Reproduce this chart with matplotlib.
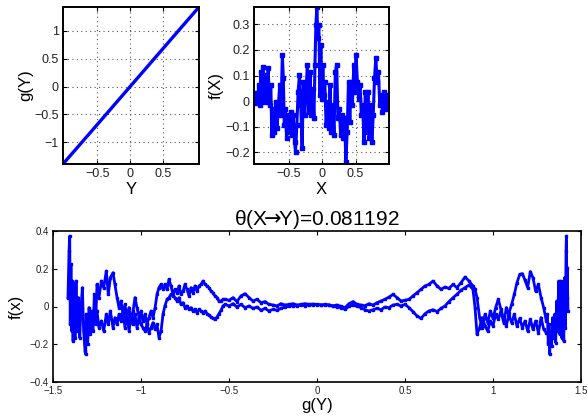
import matplotlib
matplotlib.use("Agg")
import matplotlib.pyplot as plt

plt.rcParams['font.family'] = ['Liberation Sans', 'DejaVu Sans']
plt.rcParams['axes.unicode_minus'] = True
plt.rcParams['mathtext.fontset'] = 'dejavusans'

# ---------------- data: top-left, g(Y) vs Y ----------------
Y_vals = [-1.02, -0.5, 0.0, 0.5, 1.04]
gY_vals = [-1.39, -0.68, 0.005, 0.69, 1.43]

# ---------------- data: top-right, f(X) vs X ----------------
X_vals = [-1.020, -1.005, -0.985, -0.966, -0.951, -0.936, -0.916, -0.901, -0.887, -0.867,
          -0.847, -0.828, -0.808, -0.788, -0.768, -0.754, -0.734, -0.714, -0.695, -0.675,
          -0.655, -0.635, -0.616, -0.596, -0.581, -0.567, -0.552, -0.532, -0.512, -0.493,
          -0.473, -0.453, -0.433, -0.414, -0.399, -0.379, -0.360, -0.340, -0.320, -0.300,
          -0.281, -0.261, -0.241, -0.222, -0.202, -0.182, -0.163, -0.143, -0.123, -0.108,
          -0.094, -0.079, -0.064, -0.049, -0.034, -0.020, -0.005, 0.010, 0.025, 0.039,
          0.059, 0.079, 0.099, 0.118, 0.138, 0.158, 0.177, 0.197, 0.217, 0.236,
          0.256, 0.276, 0.296, 0.315, 0.335, 0.355, 0.374, 0.394, 0.414, 0.433,
          0.453, 0.473, 0.493, 0.507, 0.527, 0.547, 0.567, 0.586, 0.606, 0.626,
          0.645, 0.665, 0.685, 0.704, 0.724, 0.744, 0.764, 0.783, 0.803, 0.823,
          0.842, 0.862, 0.882, 0.901, 0.921, 0.941, 0.961, 0.980, 1.000]
fX_vals = [0.010, -0.009, 0.030, -0.003, 0.063, -0.016, 0.115, -0.003, 0.134, 0.010,
           0.102, -0.003, 0.128, -0.016, 0.063, -0.133, -0.029, -0.120, -0.003, -0.107,
           -0.016, 0.063, -0.055, 0.180, 0.089, -0.094, -0.029, -0.146, -0.055, -0.120,
           -0.042, -0.133, -0.055, -0.159, -0.198, -0.094, 0.036, 0.102, -0.016, -0.185,
           0.076, -0.055, 0.036, 0.141, -0.042, 0.115, -0.055, 0.049, -0.068, 0.141,
           0.297, 0.368, 0.245, 0.297, 0.023, 0.219, 0.010, 0.141, 0.023, 0.076,
           -0.094, -0.003, -0.107, 0.063, -0.120, -0.016, -0.133, 0.115, 0.141, -0.068,
           -0.029, -0.133, -0.055, -0.146, -0.068, -0.237, -0.120, 0.076, -0.081, 0.076,
           -0.016, 0.141, 0.036, 0.180, 0.076, 0.010, 0.063, -0.055, -0.016, -0.159,
           0.036, -0.120, 0.036, -0.146, -0.016, -0.159, -0.055, 0.089, 0.167, 0.076,
           0.115, -0.016, 0.023, -0.042, 0.036, -0.029, 0.023, -0.016, 0.004]

# ---------------- data: bottom, f(x) vs g(Y) ----------------
g_left_col = [-1.415, -1.409, -1.405, -1.402, -1.398, -1.394, -1.390, -1.386, -1.381, -1.375,
              -1.369, -1.364, -1.356, -1.348, -1.341, -1.333, -1.326, -1.318, -1.314, -1.311,
              -1.303, -1.295, -1.288, -1.280, -1.273, -1.265, -1.258]
f_left_col = [0.047, 0.294, 0.373, -0.095, 0.223, -0.130, 0.135, -0.183, 0.117, -0.165,
              0.135, -0.130, 0.047, -0.165, -0.006, 0.100, -0.130, -0.236, -0.253, -0.041,
              -0.200, -0.006, -0.147, -0.024, -0.130, 0.064, -0.095]

g_left = [-1.250, -1.239, -1.225, -1.212, -1.197, -1.186, -1.174, -1.159, -1.148, -1.136,
          -1.125, -1.114, -1.102, -1.091, -1.080, -1.068, -1.057, -1.045, -1.034, -1.023,
          -1.011, -1.000, -0.989, -0.977, -0.966, -0.955, -0.943, -0.932, -0.920, -0.909,
          -0.898, -0.886, -0.875, -0.864, -0.852, -0.841, -0.830, -0.818, -0.807, -0.795,
          -0.784, -0.773, -0.761, -0.750, -0.739, -0.727, -0.716, -0.705, -0.693, -0.682,
          -0.670, -0.659, -0.648, -0.636, -0.625, -0.614, -0.602, -0.591, -0.580, -0.568,
          -0.557, -0.545, -0.534]
fa_left = [0.117, 0.047, 0.135, 0.100, 0.188, 0.064, 0.153, 0.179, 0.117, 0.047,
           -0.006, 0.029, -0.041, 0.011, -0.059, -0.006, -0.077, -0.024, 0.047, -0.006,
           -0.059, -0.024, -0.077, -0.041, -0.095, -0.059, -0.024, -0.059, -0.006, 0.064,
           0.100, 0.117, 0.091, 0.117, 0.091, 0.144, 0.109, 0.064, 0.091, 0.073,
           0.109, 0.064, 0.082, 0.117, 0.091, 0.056, 0.100, 0.073, 0.109, 0.082,
           0.109, 0.117, 0.135, 0.117, 0.109, 0.100, 0.082, 0.073, 0.056, 0.047,
           0.029, 0.029, 0.038]
fb_left = [-0.024, -0.112, -0.077, -0.130, -0.041, -0.095, -0.024, -0.112, -0.059, -0.095,
           -0.041, -0.077, -0.024, -0.112, -0.041, -0.130, -0.059, -0.095, -0.041, -0.112,
           -0.059, -0.095, -0.112, -0.130, -0.095, -0.139, -0.112, -0.086, -0.121, -0.095,
           -0.165, -0.130, -0.041, 0.003, 0.038, 0.047, 0.064, 0.056, 0.047, 0.029,
           0.047, 0.011, 0.020, -0.006, 0.003, -0.015, -0.006, -0.024, -0.015, -0.033,
           -0.015, -0.024, -0.033, -0.024, -0.038, -0.045, -0.056, -0.063, -0.068, -0.056,
           -0.038, -0.020, 0.003]

g_mid = [-0.523, -0.500, -0.477, -0.455, -0.432, -0.409, -0.386, -0.364, -0.341, -0.318,
         -0.295, -0.273, -0.250, -0.227, -0.205, -0.182, -0.159, -0.136, -0.114, -0.091,
         -0.068, -0.045, -0.023, 0.000]
fa_mid = [0.038, 0.033, 0.047, 0.026, 0.056, 0.068, 0.047, 0.029, 0.038, 0.020,
          0.026, 0.011, 0.008, 0.003, 0.015, 0.008, 0.011, 0.015, 0.008, 0.011,
          0.015, 0.011, 0.013, 0.011]
fb_mid = [0.011, 0.003, 0.015, -0.003, 0.011, -0.006, 0.003, -0.010, -0.003, -0.020,
          -0.010, -0.024, -0.015, -0.020, -0.010, -0.003, 0.001, 0.004, 0.003, 0.008,
          0.004, 0.008, 0.008, 0.010]

g_right = [0.023, 0.045, 0.068, 0.091, 0.114, 0.136, 0.159, 0.182, 0.205, 0.227,
           0.250, 0.273, 0.295, 0.318, 0.341, 0.364, 0.386, 0.409, 0.432, 0.455,
           0.477, 0.500, 0.523, 0.545, 0.568, 0.591, 0.614, 0.636, 0.659, 0.682,
           0.705, 0.727, 0.750, 0.773, 0.795, 0.818, 0.841, 0.864, 0.886, 0.898,
           0.909]
fa_right = [0.008, 0.011, 0.008, 0.004, 0.008, 0.001, -0.006, 0.015, 0.026, 0.011,
            0.008, 0.004, 0.015, 0.008, 0.020, 0.029, 0.038, 0.050, 0.064, 0.047,
            0.029, 0.033, 0.038, 0.056, 0.073, 0.091, 0.109, 0.117, 0.135, 0.109,
            0.091, 0.103, 0.096, 0.117, 0.100, 0.126, 0.156, 0.135, 0.109, 0.091,
            0.047]
fb_right = [0.008, 0.008, 0.008, 0.001, -0.003, -0.006, -0.015, 0.001, 0.008, 0.001,
            -0.006, -0.017, -0.024, -0.017, -0.010, -0.017, -0.003, -0.006, 0.008, 0.011,
            0.003, 0.011, -0.006, -0.027, -0.050, -0.063, -0.038, -0.024, -0.017, -0.027,
            -0.010, 0.003, 0.026, 0.047, 0.064, 0.086, 0.100, 0.114, 0.091, -0.006,
            -0.147]

g_noisy = [0.924, 0.939, 0.955, 0.970, 0.985, 1.000, 1.015, 1.030, 1.045, 1.061,
           1.076, 1.091, 1.106, 1.121, 1.136, 1.152, 1.167, 1.182, 1.197, 1.212,
           1.227, 1.242, 1.258, 1.273, 1.288, 1.303]
fa_noisy = [-0.059, -0.112, -0.041, -0.086, -0.024, -0.063, -0.006, 0.038, -0.015, -0.068,
            -0.103, -0.033, 0.011, 0.064, 0.126, 0.170, 0.174, 0.139, 0.100, 0.185,
            0.153, 0.082, 0.117, 0.047, -0.006, -0.077]
fb_noisy = [-0.112, -0.059, -0.103, -0.130, -0.077, -0.103, -0.041, -0.068, -0.024, -0.086,
            -0.006, -0.050, -0.086, -0.041, -0.103, -0.063, -0.112, -0.077, -0.130, -0.068,
            -0.121, -0.077, -0.139, -0.059, -0.121, -0.139]

g_right_col = [1.309, 1.314, 1.318, 1.322, 1.328, 1.333, 1.339, 1.345, 1.350, 1.356,
               1.362, 1.367, 1.373, 1.379, 1.384, 1.390, 1.396, 1.402, 1.407, 1.411,
               1.415, 1.417, 1.420, 1.422, 1.426]
f_right_col = [-0.041, -0.200, -0.095, -0.253, -0.130, -0.209, -0.059, -0.165, -0.041, -0.192,
               0.029, -0.130, 0.135, -0.147, 0.135, -0.165, 0.117, -0.183, 0.153, -0.112,
               0.294, 0.373, 0.047, 0.206, -0.024]

title_text = r"θ(X$\!\!\rightarrow\!\!$Y)=0.081192"

tl_xticks = [-0.5, 0, 0.5]
tl_xticklabels = ["−0.5", "0", "0.5"]
tl_yticks = [-1, -0.5, 0, 0.5, 1]
tl_yticklabels = ["−1", "−0.5", "0", "0.5", "1"]
tr_xticks = [-0.5, 0, 0.5]
tr_xticklabels = ["−0.5", "0", "0.5"]
tr_yticks = [-0.2, -0.1, 0, 0.1, 0.2, 0.3]
tr_yticklabels = ["−0.2", "−0.1", "0", "0.1", "0.2", "0.3"]
b_xticks = [-1.5, -1, -0.5, 0, 0.5, 1, 1.5]
b_xticklabels = ["−1.5", "−1", "−0.5", "0", "0.5", "1", "1.5"]
b_yticks = [-0.4, -0.2, 0, 0.2, 0.4]
b_yticklabels = ["−0.4", "−0.2", "0", "0.2", "0.4"]

# ---------------- figure ----------------
W, H = 588, 416
fig = plt.figure(figsize=(W / 100, H / 100), dpi=100)

def px_axes(l, t, r, b):
    return fig.add_axes([l / W, 1 - b / H, (r - l) / W, (b - t) / H])

BLUE = '#0000ff'
TXT = '#222222'

def style(ax, lw, fs):
    for s in ax.spines.values():
        s.set_linewidth(lw)
        s.set_color('black')
    ax.tick_params(direction='in', top=True, right=True, labelsize=fs,
                   colors='black', labelcolor=TXT, length=3, width=0.8, pad=3)

# top-left
ax1 = px_axes(63, 7, 199, 164)
ax1.plot(Y_vals, gY_vals, color=BLUE, lw=2.4, solid_capstyle='butt')
ax1.set_xlim(-1.02, 1.04)
ax1.set_ylim(-1.39, 1.43)
ax1.set_xticks(tl_xticks)
ax1.set_xticklabels(tl_xticklabels)
ax1.set_yticks(tl_yticks)
ax1.set_yticklabels(tl_yticklabels)
ax1.grid(True, linestyle=(0, (1, 3)), color='#555555', lw=0.8)
style(ax1, 1.4, 9)
ax1.set_xlabel("Y", fontsize=12, labelpad=1)
ax1.set_ylabel("g(Y)", fontsize=12, labelpad=1)

# top-right
ax2 = px_axes(254, 7, 389, 164)
ax2.plot(X_vals, fX_vals, color=BLUE, lw=2.2, marker='s', ms=2.2)
ax2.set_xlim(-1.02, 1.0)
ax2.set_ylim(-0.246, 0.368)
ax2.set_xticks(tr_xticks)
ax2.set_xticklabels(tr_xticklabels)
ax2.set_yticks(tr_yticks)
ax2.set_yticklabels(tr_yticklabels)
ax2.grid(True, linestyle=(0, (1, 3)), color='#555555', lw=0.8)
style(ax2, 1.4, 9)
ax2.set_xlabel("X", fontsize=12, labelpad=1)
ax2.set_ylabel("f(X)", fontsize=12, labelpad=1)

# bottom
ax3 = px_axes(53, 231, 581, 382)
ga = g_left_col + g_left + g_mid + g_right + g_noisy + g_right_col
fa = f_left_col + fa_left + fa_mid + fa_right + fa_noisy + f_right_col
gb = g_left + g_mid + g_right + g_noisy
fb = fb_left + fb_mid + fb_right + fb_noisy
ax3.plot(ga, fa, color=BLUE, lw=2.0, marker='s', ms=2.0)
ax3.plot(gb, fb, color=BLUE, lw=2.0, marker='s', ms=2.0)
ax3.set_xlim(-1.5, 1.5)
ax3.set_ylim(-0.4, 0.4)
ax3.set_xticks(b_xticks)
ax3.set_xticklabels(b_xticklabels)
ax3.set_yticks(b_yticks)
ax3.set_yticklabels(b_yticklabels)
style(ax3, 1.2, 7)
ax3.set_xlabel("g(Y)", fontsize=12, labelpad=1)
ax3.set_ylabel("f(x)", fontsize=12, labelpad=4)
ax3.set_title(title_text, fontsize=15, pad=4)

fig.savefig("out.png", dpi=100)
